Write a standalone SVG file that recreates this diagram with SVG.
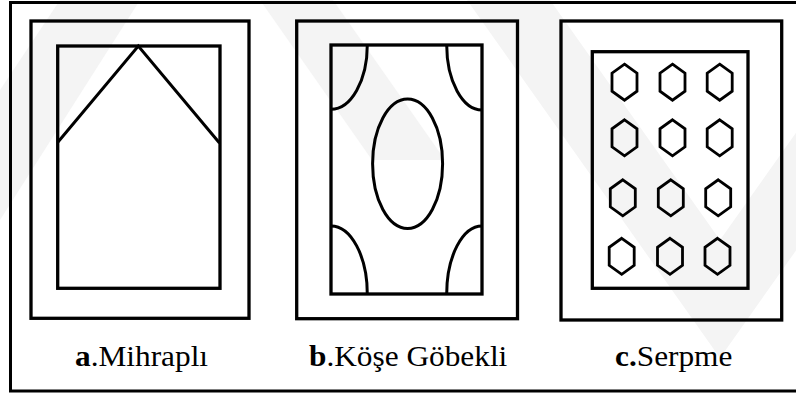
<svg xmlns="http://www.w3.org/2000/svg" width="796" height="394" viewBox="0 0 796 394">
  <style>
    .wm { fill: #f4f4f4; stroke: none; }
    .frame { fill: none; stroke: #000; stroke-width: 3.3; }
    .line { fill: none; stroke: #000; stroke-width: 3; }
    .hex { fill: none; stroke: #000; stroke-width: 2.8; stroke-linejoin: miter; }
    text { font-family: "Liberation Serif", "Times New Roman", "DejaVu Serif", serif; font-size: 29px; fill: #000; }
  </style>
  <defs>
    <polygon id="hx" class="hex" points="0,-18 12.5,-9 12.5,9 0,18 -12.5,9 -12.5,-9"/>
  </defs>
  <rect x="0" y="0" width="796" height="394" fill="#fff"/>
  <g id="watermark">
    <polygon class="wm" points="60,0 140,0 0,220 0,90"/>
    <polygon class="wm" points="260,0 333,0 445,160 372,160"/>
    <polygon class="wm" points="467,0 550,0 720,240 890,0 973,0 720,358"/>
  </g>
  <path id="border" class="line" d="M797,2.5 H10.5 V391 H797" stroke-width="2.6"/>
  <g id="panel-a">
    <rect class="frame" x="31" y="21" width="218" height="297.3"/>
    <rect class="frame" x="57.7" y="46" width="162.3" height="242.3"/>
    <polyline class="line" points="58,142 138.3,46 219.5,143"/>
    <text transform="translate(75,366) scale(1.08,1)"><tspan font-weight="bold">a</tspan>.Mihraplı</text>
  </g>
  <g id="panel-b">
    <rect class="frame" x="296.7" y="21" width="220.8" height="297.7"/>
    <rect class="frame" x="331" y="45" width="151" height="249"/>
    <ellipse class="line" cx="407.6" cy="163.7" rx="35" ry="64.7"/>
    <path class="line" d="M367.3,45 A36.3,64.3 0 0 1 331,109.3"/>
    <path class="line" d="M446.7,45 A35.3,65 0 0 0 482,110"/>
    <path class="line" d="M331,226 A36.3,68 0 0 1 367.3,294"/>
    <path class="line" d="M482,226 A35.3,68 0 0 0 446.7,294"/>
    <text transform="translate(309,366) scale(1.08,1)"><tspan font-weight="bold">b</tspan>.Köşe Göbekli</text>
  </g>
  <g id="panel-c">
    <rect class="frame" x="561" y="21" width="220.7" height="299"/>
    <rect class="frame" x="592.3" y="51.7" width="155.7" height="236.6"/>
    <use href="#hx" x="624.5" y="82.2"/>
    <use href="#hx" x="672.5" y="82.2"/>
    <use href="#hx" x="719.7" y="82.2"/>
    <use href="#hx" x="624.5" y="137.8"/>
    <use href="#hx" x="672.5" y="137.8"/>
    <use href="#hx" x="719.7" y="137.8"/>
    <use href="#hx" x="622.8" y="197.8"/>
    <use href="#hx" x="670.8" y="197.8"/>
    <use href="#hx" x="718.2" y="197.8"/>
    <use href="#hx" x="621.7" y="256.3"/>
    <use href="#hx" x="670" y="256.3"/>
    <use href="#hx" x="717.5" y="256.3"/>
    <text transform="translate(615,366) scale(1.08,1)"><tspan font-weight="bold">c.</tspan>Serpme</text>
  </g>
</svg>
